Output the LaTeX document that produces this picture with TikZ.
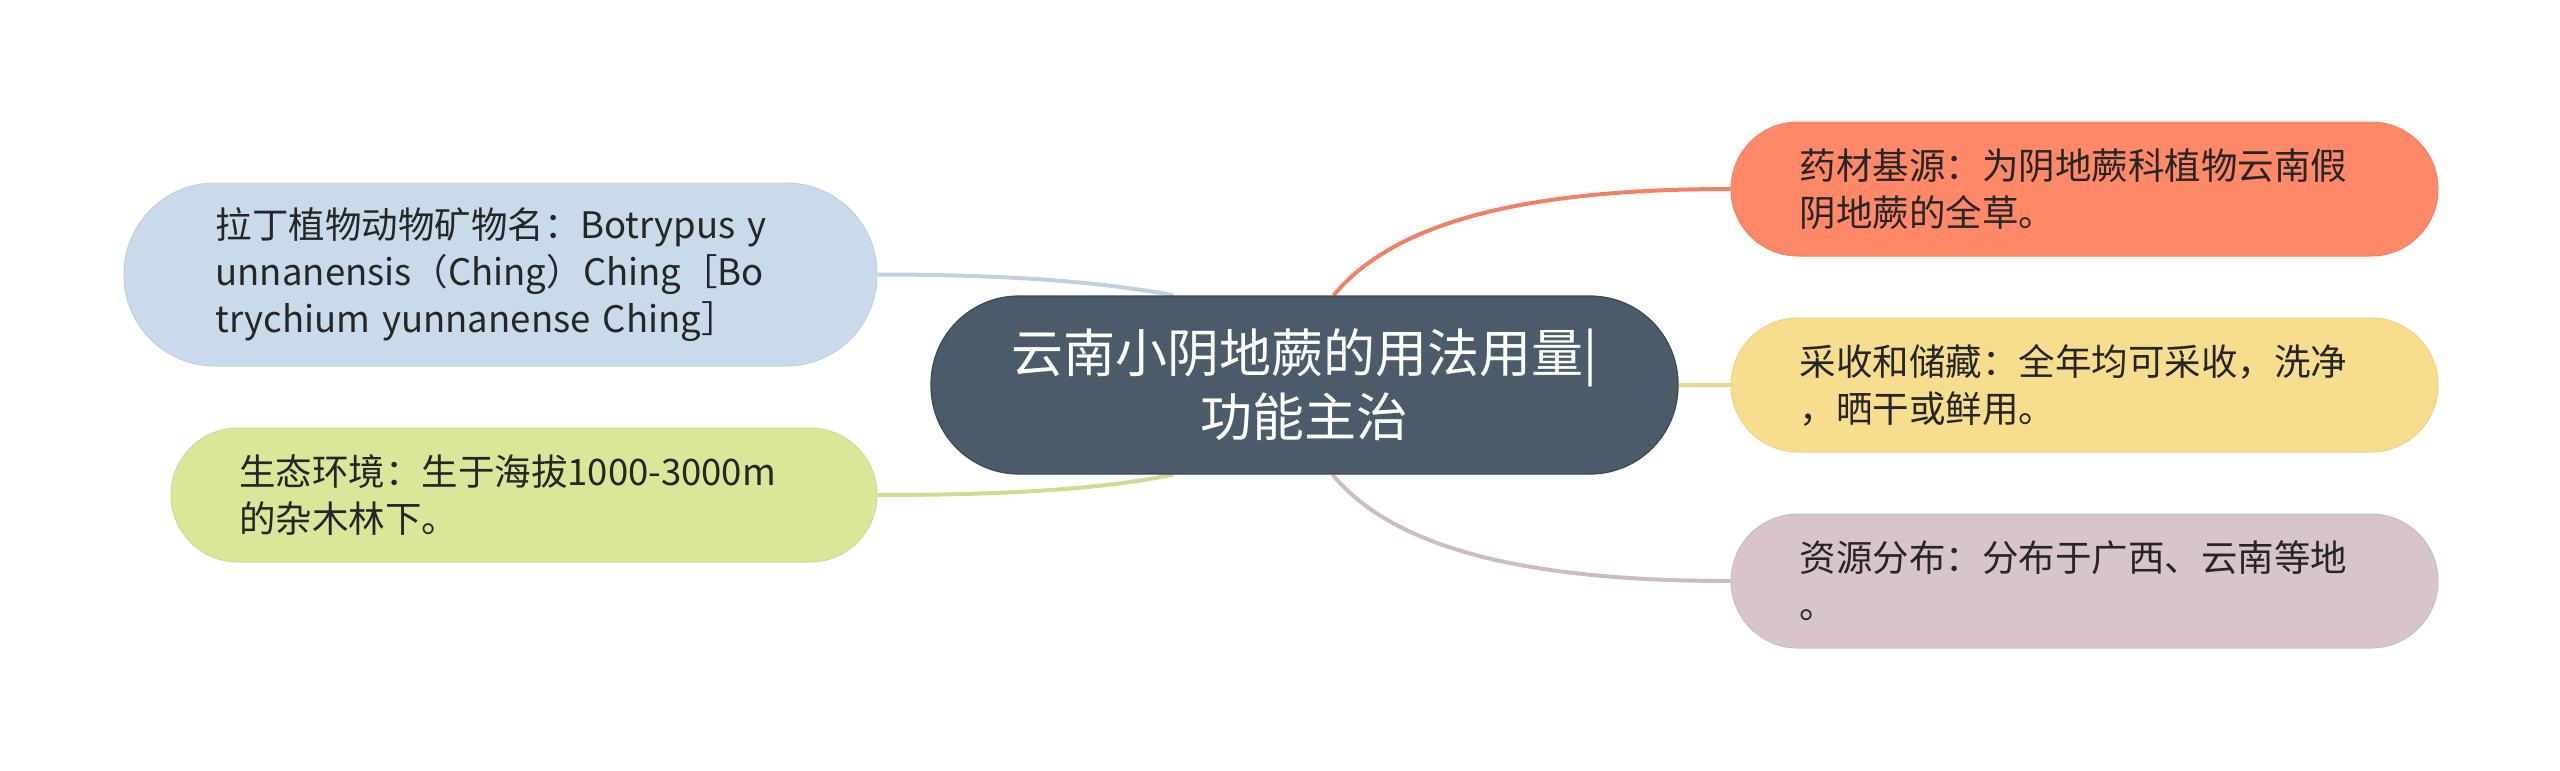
\documentclass[tikz,border=0pt]{standalone}
\usepackage{fontspec}
\setmainfont{Noto Sans CJK SC}
\usetikzlibrary{calc,backgrounds}
\definecolor{cmain}{HTML}{4B5B6A}
\definecolor{cblue}{HTML}{C9DBEB}
\definecolor{cgreen}{HTML}{D9E799}
\definecolor{corange}{HTML}{FF8868}
\definecolor{cyellow}{HTML}{F7DE8E}
\definecolor{cpink}{HTML}{D8C4CD}
\definecolor{txt}{HTML}{262626}
\begin{document}
\begin{tikzpicture}[x=1pt,y=-1pt,
  leaf/.style={text=txt, align=left, text width=570pt, inner sep=0pt,
    minimum width=707pt, minimum height=134pt, rounded corners=67pt,
    line width=1pt, font=\fontsize{36.5}{47}\selectfont},
  centre/.style={fill=cmain, draw=cmain!80!black, line width=1.2pt, text=white,
    align=center, inner sep=0pt, minimum width=747pt, minimum height=178pt,
    rounded corners=88pt, font=\fontsize{52}{64}\selectfont},
  conn/.style={line width=4pt}]
\useasboundingbox (0,0) rectangle (2560,771);

\node[centre] (c) at (1304.5,385) {云南小阴地蕨的用法用量|\\功能主治};

\node[leaf, fill=cblue, draw=cblue!95!black, minimum width=753pt, minimum height=183pt, rounded corners=91pt] (b) at (500.5,274.5)
  {拉丁植物动物矿物名：Botrypus y\\unnanensis（Ching）Ching［Bo\\trychium yunnanense Ching］};
\node[leaf, fill=cgreen, draw=cgreen!95!black, minimum width=706pt] (g) at (524,495)
  {生态环境：生于海拔1000-3000m\\的杂木林下。};
\node[leaf, fill=corange, draw=corange!95!black] (o) at (2084.5,189)
  {药材基源：为阴地蕨科植物云南假\\阴地蕨的全草。};
\node[leaf, fill=cyellow, draw=cyellow!95!black] (y) at (2084.5,385)
  {采收和储藏：全年均可采收，洗净\\，晒干或鲜用。};
\node[leaf, fill=cpink, draw=cpink!95!black] (p) at (2084.5,581)
  {资源分布：分布于广西、云南等地\\。};

\begin{scope}[on background layer]
\fill[white] (0,0) rectangle (2560,771);
\draw[conn, draw=cblue!95!black] (b.east) .. controls +(124,0) and +(-73,-14) .. ($(c.north)+(-131,0)$);
\draw[conn, draw=cgreen!95!black] (g.east) .. controls +(124,0) and +(-73,15) .. ($(c.south)+(-131,0)$);
\draw[conn, draw=corange!95!black] ($(c.north)+(29,0)$) .. controls +(67,-81) and +(-183,0) .. (o.west);
\draw[conn, draw=cyellow!95!black] (c.east) -- (y.west);
\draw[conn, draw=cpink!95!black] ($(c.south)+(28,0)$) .. controls +(67,81) and +(-183,0) .. (p.west);
\end{scope}
\end{tikzpicture}
\end{document}
